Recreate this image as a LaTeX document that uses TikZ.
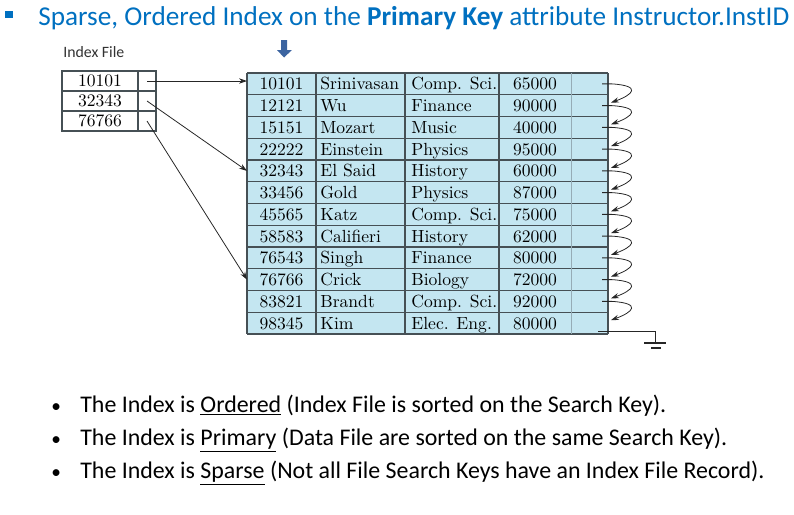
\documentclass[tikz,border=0pt]{standalone}
\usepackage{fontspec}
\newfontfamily\slidefont{Carlito}
\usetikzlibrary{arrows.meta}

\definecolor{titleblue}{RGB}{0,112,192}
\definecolor{cellblue}{RGB}{196,230,241}
\definecolor{gridgray}{RGB}{70,80,85}
\definecolor{lightgrid}{RGB}{150,172,182}
\definecolor{arrowblue}{RGB}{60,100,160}

\begin{document}
\begin{tikzpicture}[x=0.02cm,y=-0.02cm,
  txt/.style={inner sep=0pt,anchor=base west,font=\fontsize{10}{12}\selectfont},
  keytxt/.style={txt,anchor=base},
  ixcell/.style={draw=gridgray,line width=0.6pt,fill=white,inner sep=0pt,
    minimum height=0.4cm,font=\fontsize{10}{12}\selectfont},
  ptr/.style={draw=black!85,line width=0.45pt,-{Stealth[length=4.5pt,width=3pt]}},
  chain/.style={draw=black!85,line width=0.45pt,-{Stealth[length=4.5pt,width=3pt]}},
  slide/.style={inner sep=0pt,anchor=base west,font=\slidefont\fontsize{13.6}{16}\selectfont},
]
\useasboundingbox (0,0) rectangle (794,514);

% heading
\fill[titleblue] (5,11) rectangle (13,18);
\node[slide,text=titleblue,font=\slidefont\fontsize{15.5}{18}\selectfont] (title) at (38,25)
  {Sparse, Ordered Index on the \textbf{Primary Key} attribute Instructor.InstID};

% marker above the search-key column
\fill[arrowblue] (281,40) -- (287,40) -- (287,50) -- (292,50) -- (284,57.5) -- (277,50) -- (281,50) -- cycle;

% index file
\node[inner sep=0pt,anchor=base west,font=\slidefont\fontsize{9}{11}\selectfont,text=black!80] (ixlabel) at (63,57) {Index File};
\foreach \i/\k in {1/10101,2/32343,3/76766}{
  \pgfmathsetmacro\yc{71+(\i-1)*20+10}
  \node[ixcell,minimum width=1.52cm] (ik\i) at (100,\yc) {\k};
  \node[ixcell,minimum width=0.36cm] (ip\i) at (147,\yc) {};
}

% data file
\fill[cellblue] (247,73) rectangle (608,334);
\foreach \j in {0,...,12}{
  \pgfmathsetmacro\yl{73+\j*21.75}
  \draw[gridgray,line width=0.6pt] (247,\yl) -- (608,\yl);
}
\foreach \xl in {247,316,405,499,608}{
  \draw[gridgray,line width=0.6pt] (\xl,73) -- (\xl,334);
}
\draw[lightgrid,line width=0.5pt] (571,73) -- (571,334);

\foreach \i/\id/\nm/\dept/\sal in {
  1/10101/Srinivasan/Comp. Sci./65000,
  2/12121/Wu/Finance/90000,
  3/15151/Mozart/Music/40000,
  4/22222/Einstein/Physics/95000,
  5/32343/El Said/History/60000,
  6/33456/Gold/Physics/87000,
  7/45565/Katz/Comp. Sci./75000,
  8/58583/Califieri/History/62000,
  9/76543/Singh/Finance/80000,
  10/76766/Crick/Biology/72000,
  11/83821/Brandt/Comp. Sci./92000,
  12/98345/Kim/Elec. Eng./80000}{
  \pgfmathsetmacro\yc{73+(\i-1)*21.75+10.875}
  \pgfmathsetmacro\yb{\yc+6}
  \node[keytxt] (id\i) at (281.5,\yb) {\id};
  \node[txt] (nm\i) at (320,\yb) {\nm};
  \node[txt] (dp\i) at (411,\yb) {\dept};
  \node[keytxt] (sal\i) at (535,\yb) {\sal};
  \coordinate (in\i) at (247,\yc);
  \coordinate (out\i) at (602,\yc);
  \pgfmathsetmacro\yt{\yc-3}
  \coordinate (tip\i) at (611,\yt);
}

% index pointers into the data file
\draw[ptr] (ip1.center) -- (ip1.center -| in1);
\draw[ptr] (ip2.center) -- (in5);
\draw[ptr] (ip3.center) -- (in10);

% record chain
\foreach \i [evaluate=\i as \j using int(\i+1)] in {1,...,11}{
  \draw[chain] (out\i) -- ++(10,0) .. controls +(30,2) and +(22,-8) .. (tip\j);
}

% end of chain
\coordinate (nullptr) at (598,331);
\coordinate (gnd) at (655,343);
\draw[black!85,line width=0.45pt] (nullptr) -| (gnd);
\draw[black!85,line width=0.6pt] (644,343) -- (666,343);
\draw[black!85,line width=0.6pt] (651,348) -- (661,348);

% notes
\foreach \n/\y/\t in {
  1/412/{The Index is \underline{Ordered} (Index File is sorted on the Search Key).},
  2/445/{The Index is \underline{Primary} (Data File are sorted on the same Search Key).},
  3/478/{The Index is \underline{Sparse} (Not all File Search Keys have an Index File Record).}}{
  \node[slide,font=\slidefont\fontsize{11}{13}\selectfont] (dot\n) at (51,\y) {•};
  \node[slide] (note\n) at (80,\y) {\t};
}
\end{tikzpicture}
\end{document}
